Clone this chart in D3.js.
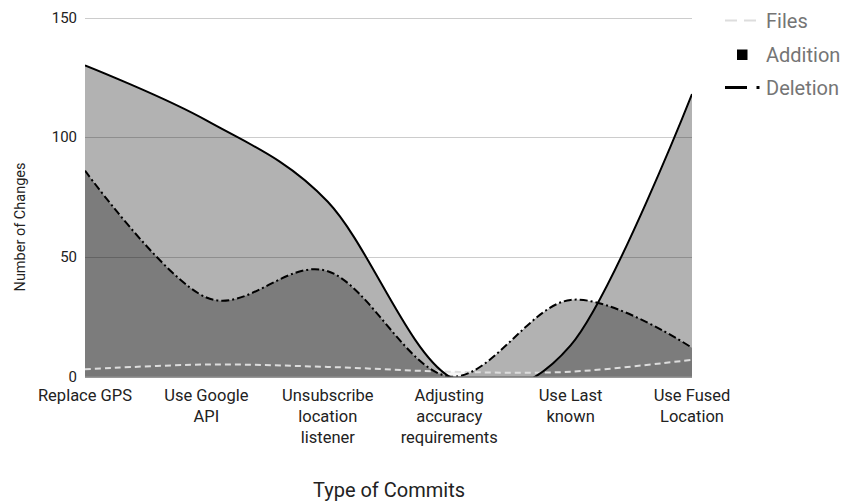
<!DOCTYPE html>
<html lang="en">
<head>
    <meta charset="UTF-8">
    <script src="https://d3js.org/d3.v7.min.js"></script>
    <title>Type of Commits</title>
    <style>
        body { margin: 0; background: #fff; }
        text { font-family: Roboto, "Noto Sans", sans-serif; }
    </style>
</head>
<body>
<div id="Area"></div>
<script>
    // data
    const categories = [
        ["Replace GPS"],
        ["Use Google", "API"],
        ["Unsubscribe", "location", "listener"],
        ["Adjusting", "accuracy", "requirements"],
        ["Use Last", "known"],
        ["Use Fused", "Location"]
    ];
    const files    = [3, 5, 4, 2, 2, 7];
    const addition = [130, 107, 73, 0, 13, 118];
    const deletion = [86, 33, 44, 0, 32, 12];
    const yTicks   = [0, 50, 100, 150];

    const W = 844, H = 503;
    const plot = {left: 85, right: 692, top: 17.5, bottom: 376.5};

    const svg = d3.select("#Area").append("svg")
        .attr("width", W).attr("height", H);

    const idx = d3.range(categories.length);
    const x = d3.scalePoint().domain(idx).range([plot.left, plot.right]);
    const y = d3.scaleLinear().domain([0, 150]).range([plot.bottom, plot.top]);

    // clip so the smoothed curves can't go under the baseline
    svg.append("clipPath").attr("id", "clip")
      .append("rect")
        .attr("x", plot.left).attr("y", plot.top)
        .attr("width", plot.right - plot.left)
        .attr("height", plot.bottom - plot.top);

    // gridlines
    svg.append("g")
      .selectAll("line")
      .data(yTicks.filter(d => d > 0))
      .join("line")
        .attr("x1", plot.left).attr("x2", plot.right)
        .attr("y1", d => Math.round(y(d)) + 0.5).attr("y2", d => Math.round(y(d)) + 0.5)
        .attr("stroke", "#cccccc");

    // y axis labels
    const yAxis = svg.append("g")
        .attr("transform", "translate(" + plot.left + ",0)")
        .call(d3.axisLeft(y).tickValues(yTicks).tickSize(0).tickPadding(8));
    yAxis.select(".domain").remove();
    yAxis.selectAll("text")
        .attr("font-size", 15).attr("fill", "#222")
        .style("font-family", "Roboto");

    const curve = d3.curveCardinal.tension(0);
    const area = d3.area()
        .x((d, i) => x(i))
        .y0(y(0))
        .y1(d => y(d))
        .curve(curve);
    const line = d3.line()
        .x((d, i) => x(i))
        .y(d => y(d))
        .curve(curve);

    const g = svg.append("g").attr("clip-path", "url(#clip)");

    g.append("path").datum(files)
        .attr("d", area).attr("fill", "#dddddd").attr("fill-opacity", 0.3);
    g.append("path").datum(addition)
        .attr("d", area).attr("fill", "#000").attr("fill-opacity", 0.3);
    g.append("path").datum(deletion)
        .attr("d", area).attr("fill", "#000").attr("fill-opacity", 0.3);

    g.append("path").datum(files)
        .attr("d", line).attr("fill", "none")
        .attr("stroke", "#dddddd").attr("stroke-width", 2)
        .attr("stroke-dasharray", "6,4");
    g.append("path").datum(addition)
        .attr("d", line).attr("fill", "none")
        .attr("stroke", "#000").attr("stroke-width", 2);
    g.append("path").datum(deletion)
        .attr("d", line).attr("fill", "none")
        .attr("stroke", "#000").attr("stroke-width", 2)
        .attr("stroke-dasharray", "8,3,2,3");

    // baseline
    svg.append("line")
        .attr("x1", plot.left).attr("x2", plot.right)
        .attr("y1", y(0) + 0.5).attr("y2", y(0) + 0.5)
        .attr("stroke", "#333");

    // x labels
    const xl = svg.append("g").selectAll("text")
        .data(categories)
        .join("text")
        .attr("x", (d, i) => x(i))
        .attr("y", 401)
        .attr("text-anchor", "middle")
        .attr("font-size", 16.5)
        .attr("fill", "#222");
    xl.selectAll("tspan")
        .data(d => d)
        .join("tspan")
        .attr("x", function() { return this.parentNode.getAttribute("x"); })
        .attr("dy", (d, i) => i === 0 ? 0 : 21)
        .text(d => d);

    // axis titles
    svg.append("text")
        .attr("transform", "translate(25,227) rotate(-90)")
        .attr("text-anchor", "middle")
        .attr("font-size", 14.5).attr("fill", "#222")
        .text("Number of Changes");
    svg.append("text")
        .attr("x", 389).attr("y", 497)
        .attr("text-anchor", "middle")
        .attr("font-size", 20).attr("fill", "#222")
        .text("Type of Commits");

    // legend
    const legend = svg.append("g");
    legend.append("line")
        .attr("x1", 725).attr("x2", 756).attr("y1", 20.5).attr("y2", 20.5)
        .attr("stroke", "#dddddd").attr("stroke-width", 2)
        .attr("stroke-dasharray", "12,7");
    legend.append("rect")
        .attr("x", 737).attr("y", 49.5).attr("width", 10.5).attr("height", 10.5)
        .attr("fill", "#000");
    legend.append("line")
        .attr("x1", 725).attr("x2", 747).attr("y1", 87.5).attr("y2", 87.5)
        .attr("stroke", "#000").attr("stroke-width", 3);
    legend.append("rect")
        .attr("x", 756.5).attr("y", 86).attr("width", 3).attr("height", 3)
        .attr("fill", "#000");
    legend.selectAll("text")
        .data(["Files", "Addition", "Deletion"])
        .join("text")
        .attr("x", 766)
        .attr("y", (d, i) => 28 + i * 33.5)
        .attr("font-size", 20)
        .attr("fill", "#757575")
        .text(d => d);
</script>
</body>
</html>
